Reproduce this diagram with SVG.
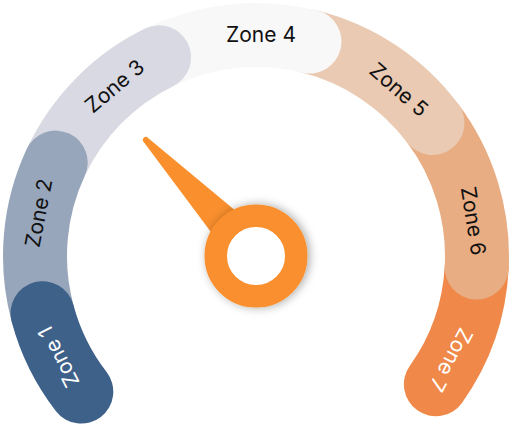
<svg xmlns="http://www.w3.org/2000/svg" width="512" height="428" viewBox="0 0 512 428">
<style>
.arc{fill:none;stroke-width:64;stroke-linecap:round}
.lbl{font-family:Inter,"Open Sans","Liberation Sans",sans-serif;font-size:21px;text-anchor:middle;dominant-baseline:central}
.dark{fill:#111111}
.light{fill:#ffffff}
</style>
<defs>
<filter id="sh" x="-40%" y="-40%" width="180%" height="180%">
<feDropShadow dx="2" dy="0" stdDeviation="5" flood-color="#000" flood-opacity="0.35"/>
</filter>
</defs>
<rect width="512" height="428" fill="#ffffff"/>
<g id="zone7"><path class="arc" stroke="#EF8848" d="M476.69 267.57 A221 221 0 0 1 435.9 384.3"/><text class="lbl light" transform="translate(451.1 359.8) rotate(118)">Zone 7</text></g>
<g id="zone6"><path class="arc" stroke="#E8AD82" d="M432.49 123 A221 221 0 0 1 476.69 267.57"/><text class="lbl dark" transform="translate(473.5 221) rotate(81)">Zone 6</text></g>
<g id="zone5"><path class="arc" stroke="#EACAB2" d="M309.46 41.57 A221 221 0 0 1 432.49 123"/><text class="lbl dark" transform="translate(399 89.5) rotate(41)">Zone 5</text></g>
<g id="zone4"><path class="arc" stroke="#F8F8F8" d="M159.11 57.37 A221 221 0 0 1 309.46 41.57"/><text class="lbl dark" transform="translate(261 34) rotate(0)">Zone 4</text></g>
<g id="zone3"><path class="arc" stroke="#D8D9E2" d="M55.71 162.6 A221 221 0 0 1 159.11 57.37"/><text class="lbl dark" transform="translate(114.5 86) rotate(320)">Zone 3</text></g>
<g id="zone2"><path class="arc" stroke="#97A6BB" d="M42.53 313.2 A221 221 0 0 1 55.71 162.6"/><text class="lbl dark" transform="translate(38.5 213) rotate(281)">Zone 2</text></g>
<g id="zone1"><path class="arc" stroke="#3E618A" d="M81.3 391.6 A221 221 0 0 1 42.53 313.2"/><text class="lbl light" transform="translate(58.5 357) rotate(243)">Zone 1</text></g>
<g id="needle"><path fill="#F98F2D" d="M256.37 228.07 L148.08 137.93 A3 3 0 0 0 143.72 142.07 L228.09 254.91 Z"/></g>
<g id="hub" filter="url(#sh)"><circle cx="256" cy="256" r="40.25" fill="#ffffff" stroke="#F98F2D" stroke-width="22.5"/></g>
</svg>
